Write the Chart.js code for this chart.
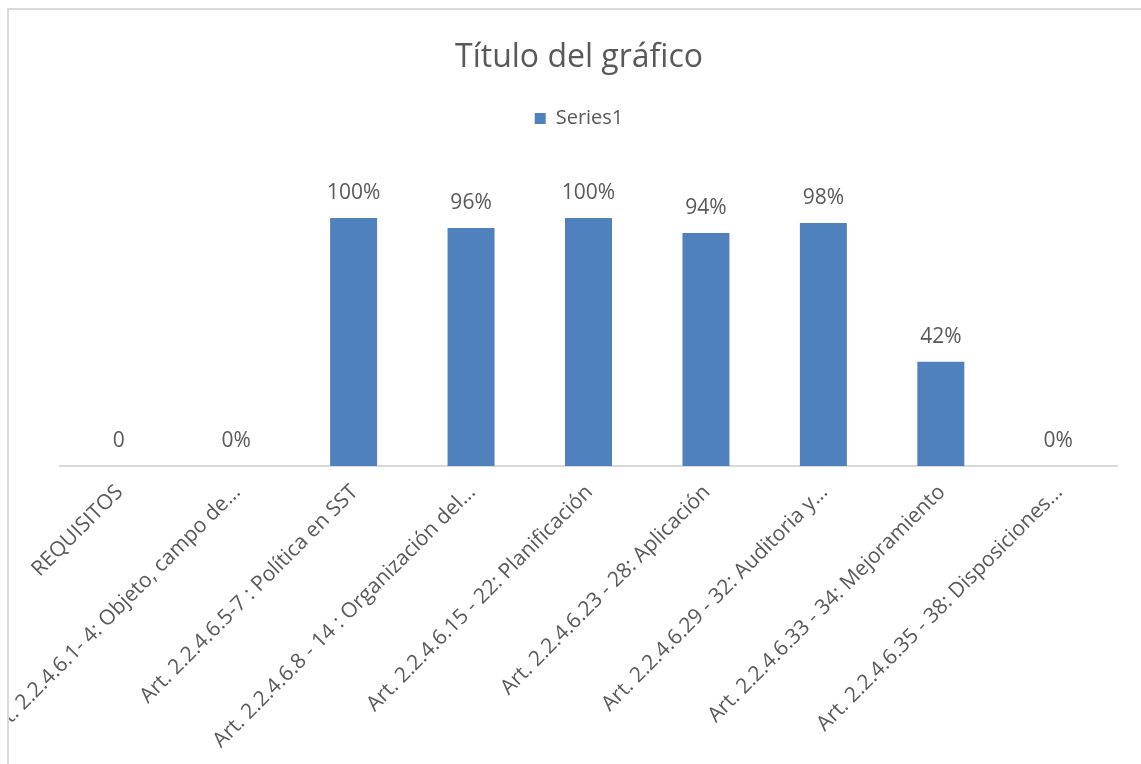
<!DOCTYPE html>
<html>
<head>
<meta charset="utf-8">
<title>Título del gráfico</title>
<script src="https://cdn.jsdelivr.net/npm/chart.js@4.4.1/dist/chart.umd.min.js"></script>
<style>
    html, body { margin: 0; padding: 0; background: #ffffff; overflow: hidden; }
    #frame {
        position: absolute;
        left: 7px;
        top: 8px;
        right: 0;
        bottom: 0;
        border-left: 2px solid #d9d9d9;
        border-top: 2px solid #d9d9d9;
    }
    #chartBox { position: absolute; left: 0; top: 0; width: 1132px; height: 754px; }
</style>
</head>
<body>
<div id="frame">
    <div id="chartBox"><canvas id="reqChart"></canvas></div>
</div>
<script>
const categories = [
    'REQUISITOS',
    'Art. 2.2.4.6.1- 4: Objeto, campo de...',
    'Art. 2.2.4.6.5-7 : Política en SST',
    'Art. 2.2.4.6.8 - 14 : Organización del...',
    'Art. 2.2.4.6.15 - 22: Planificación',
    'Art. 2.2.4.6.23 - 28: Aplicación',
    'Art. 2.2.4.6.29 - 32: Auditoria y...',
    'Art. 2.2.4.6.33 - 34: Mejoramiento',
    'Art. 2.2.4.6.35 - 38: Disposiciones...'
];
const series1 = [0, 0, 1.00, 0.96, 1.00, 0.94, 0.98, 0.42, 0];
const valueLabels = ['0', '0%', '100%', '96%', '100%', '94%', '98%', '42%', '0%'];

const textColor = '#595959';
const barColor = '#4f81bd';
const fontFamily = '"Open Sans", "Noto Sans", sans-serif';

// values above each bar, like the Excel data labels
const valueLabelPlugin = {
    id: 'valueLabels',
    afterDatasetsDraw(chart) {
        const ctx = chart.ctx;
        const meta = chart.getDatasetMeta(0);
        ctx.save();
        ctx.font = `21px ${fontFamily}`;
        ctx.fillStyle = textColor;
        ctx.textAlign = 'center';
        ctx.textBaseline = 'middle';
        meta.data.forEach((bar, i) => {
            ctx.fillText(valueLabels[i], bar.x, bar.y - 25);
        });
        ctx.restore();
    }
};

// extra room between the legend and the plot area
const legendGapPlugin = {
    id: 'legendGap',
    beforeLayout(chart) {
        const legend = chart.legend;
        if (legend && !legend._gapPatched) {
            const fit = legend.fit;
            legend.fit = function () {
                fit.call(this);
                this.height += 30;
            };
            legend._gapPatched = true;
        }
    }
};

function renderChart() {
    const ctx = document.getElementById('reqChart').getContext('2d');
    new Chart(ctx, {
        type: 'bar',
        data: {
            labels: categories,
            datasets: [{
                label: 'Series1',
                data: series1,
                backgroundColor: barColor,
                borderWidth: 0,
                barPercentage: 0.4,
                categoryPercentage: 1.0
            }]
        },
        options: {
            responsive: true,
            maintainAspectRatio: false,
            animation: false,
            layout: { padding: { left: 8, right: 0, top: 0, bottom: 0 } },
            plugins: {
                title: {
                    display: true,
                    text: 'Título del gráfico',
                    color: textColor,
                    font: { family: fontFamily, size: 32, weight: 'normal' },
                    padding: { top: 29, bottom: 21 }
                },
                legend: {
                    position: 'top',
                    labels: {
                        color: textColor,
                        font: { family: fontFamily, size: 20 },
                        boxWidth: 11,
                        boxHeight: 11,
                        padding: 10
                    }
                },
                tooltip: { enabled: false }
            },
            scales: {
                x: {
                    grid: { display: false, drawTicks: false },
                    border: { display: true, color: '#d9d9d9', width: 2 },
                    ticks: {
                        color: textColor,
                        font: { family: fontFamily, size: 21 },
                        autoSkip: false,
                        minRotation: 45,
                        maxRotation: 45,
                        padding: 14,
                        labelOffset: 1
                    },
                    afterFit: (scale) => {
                        // plot area inset like the Excel chart
                        scale.height = 298;
                        scale.paddingLeft = 51;
                        scale.paddingRight = 24;
                    }
                },
                y: {
                    display: false,
                    min: 0,
                    max: 1.2
                }
            }
        },
        plugins: [valueLabelPlugin, legendGapPlugin]
    });
}

window.onload = () => {
    renderChart();
};
</script>
</body>
</html>
